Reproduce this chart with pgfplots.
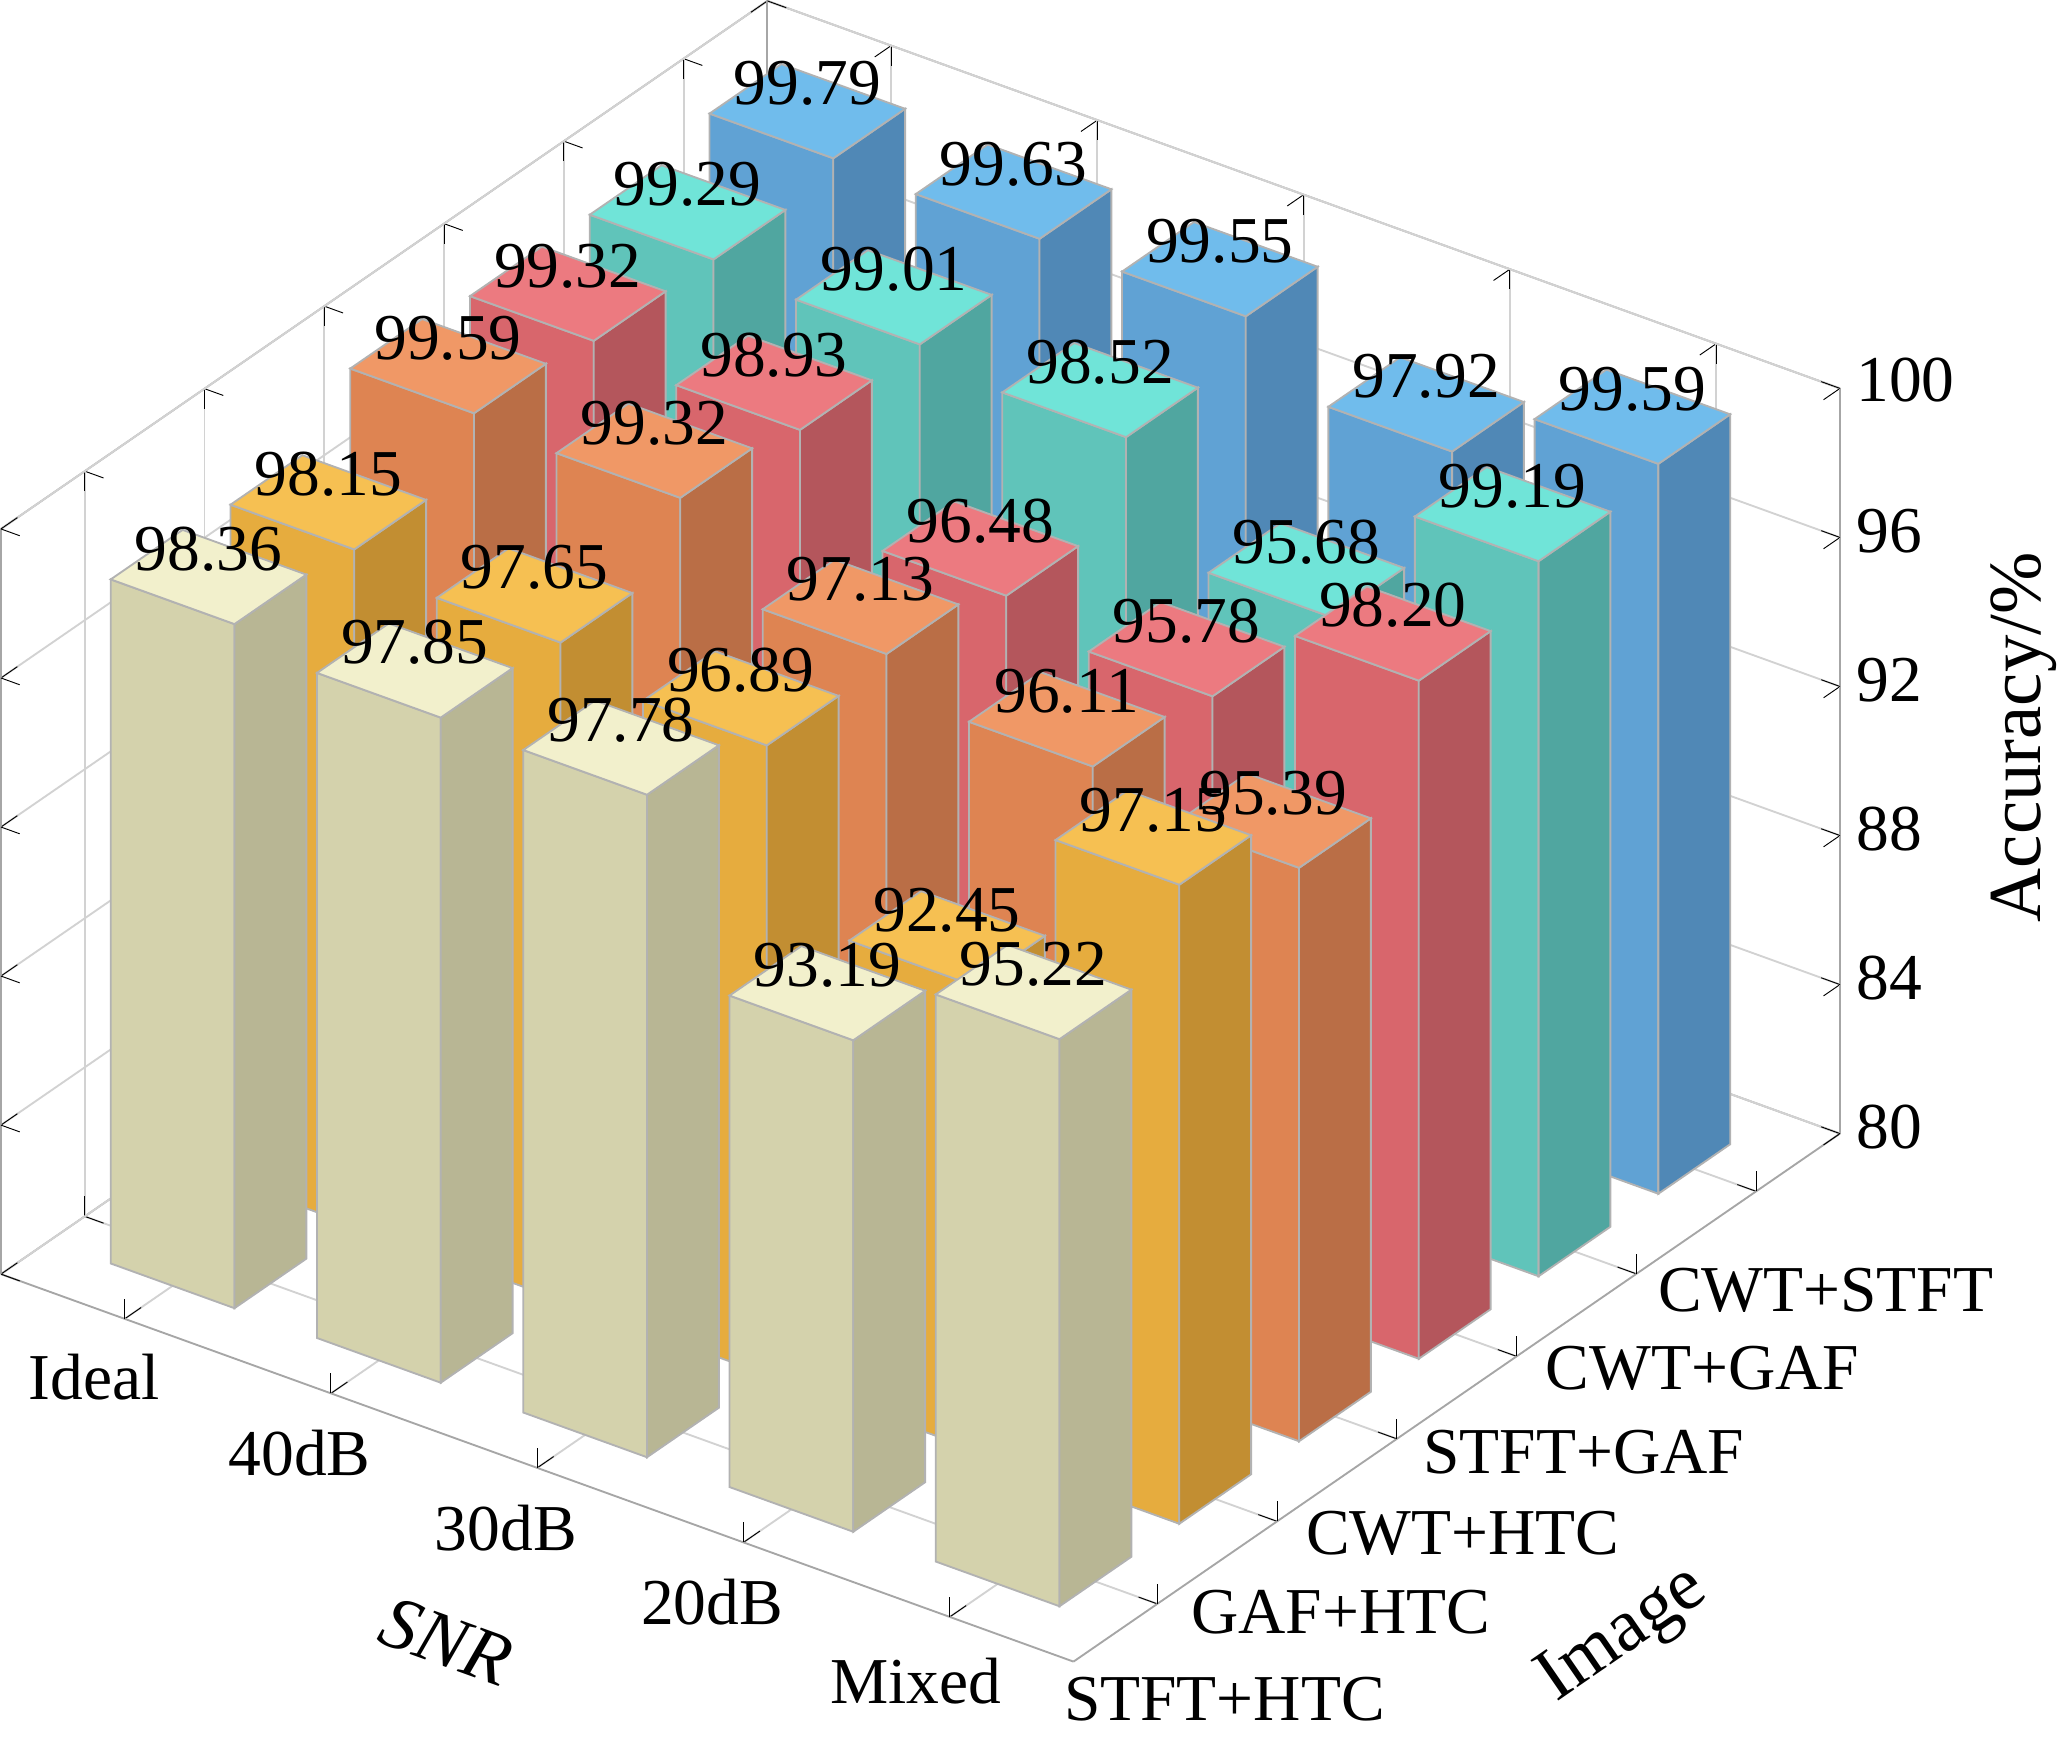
\documentclass[border=0pt]{standalone}
\usepackage{pgfplots}
\pgfplotsset{compat=1.18}
\usepackage{fontspec}
\setmainfont{Liberation Serif}
\definecolor{c0f}{RGB}{212,210,172}\definecolor{c0r}{RGB}{184,182,148}\definecolor{c0t}{RGB}{242,240,204}
\definecolor{c1f}{RGB}{230,172,62}\definecolor{c1r}{RGB}{194,142,50}\definecolor{c1t}{RGB}{246,192,82}
\definecolor{c2f}{RGB}{222,132,82}\definecolor{c2r}{RGB}{186,110,70}\definecolor{c2t}{RGB}{240,152,102}
\definecolor{c3f}{RGB}{216,102,108}\definecolor{c3r}{RGB}{180,86,92}\definecolor{c3t}{RGB}{236,122,128}
\definecolor{c4f}{RGB}{96,196,186}\definecolor{c4r}{RGB}{80,166,160}\definecolor{c4t}{RGB}{112,228,216}
\definecolor{c5f}{RGB}{96,162,212}\definecolor{c5r}{RGB}{80,136,182}\definecolor{c5t}{RGB}{112,188,236}
\newcommand{\bbar}[4]{%
\pgfmathsetmacro\xa{#1-0.3}\pgfmathsetmacro\xb{#1+0.3}%
\pgfmathsetmacro\ya{#2-0.3}\pgfmathsetmacro\yb{#2+0.3}%
\addplot3[fill=c#4f, draw=gray!60, line width=0.4pt] coordinates {(\xa,\ya,80) (\xb,\ya,80) (\xb,\ya,#3) (\xa,\ya,#3)} -- cycle;
\addplot3[fill=c#4r, draw=gray!60, line width=0.4pt] coordinates {(\xb,\ya,80) (\xb,\yb,80) (\xb,\yb,#3) (\xb,\ya,#3)} -- cycle;
\addplot3[fill=c#4t, draw=gray!60, line width=0.4pt] coordinates {(\xa,\ya,#3) (\xb,\ya,#3) (\xb,\yb,#3) (\xa,\yb,#3)} -- cycle;
\addplot3[draw=none, mark=none, point meta=z, nodes near coords={\pgfmathprintnumber[fixed,precision=2,fixed zerofill]{\pgfplotspointmeta}}, nodes near coords style={anchor=south, font=\fontsize{14}{17}\selectfont, inner sep=1pt}] coordinates {(#1,#2,#3)};
}
\begin{document}
\begin{tikzpicture}
\begin{axis}[
  x={(1.55cm,-0.56cm)}, y={(0.9cm,0.62cm)}, z={(0cm,0.28cm)},
  xmin=-0.6, xmax=4.6, ymin=-0.7, ymax=5.7, zmin=80, zmax=100,
  clip=false,
  xtick={0,1,2,3,4}, xticklabels={Ideal,40dB,30dB,20dB,Mixed},
  ytick={0,1,2,3,4,5}, yticklabels={STFT+HTC,GAF+HTC,CWT+HTC,STFT+GAF,CWT+GAF,CWT+STFT},
  ztick={80,84,88,92,96,100},
  zticklabel pos=right,
  grid=major, grid style={gray!35},
  axis line style={gray!70},
  tick style={black},
  tick label style={font=\fontsize{14}{17}\selectfont},
  yticklabel style={inner sep=1pt},
  /pgf/number format/assume math mode=true,
  xlabel={\textit{SNR}}, ylabel={Image}, zlabel={Accuracy/\%},
  label style={font=\fontsize{16}{19}\selectfont},
  xlabel style={sloped like x axis},
  ylabel style={sloped like y axis},
]
\bbar{0}{5}{99.79}{5}\bbar{1}{5}{99.63}{5}\bbar{2}{5}{99.55}{5}\bbar{3}{5}{97.92}{5}\bbar{4}{5}{99.59}{5}
\bbar{0}{4}{99.29}{4}\bbar{1}{4}{99.01}{4}\bbar{2}{4}{98.52}{4}\bbar{3}{4}{95.68}{4}\bbar{4}{4}{99.19}{4}
\bbar{0}{3}{99.32}{3}\bbar{1}{3}{98.93}{3}\bbar{2}{3}{96.48}{3}\bbar{3}{3}{95.78}{3}\bbar{4}{3}{98.20}{3}
\bbar{0}{2}{99.59}{2}\bbar{1}{2}{99.32}{2}\bbar{2}{2}{97.13}{2}\bbar{3}{2}{96.11}{2}\bbar{4}{2}{95.39}{2}
\bbar{0}{1}{98.15}{1}\bbar{1}{1}{97.65}{1}\bbar{2}{1}{96.89}{1}\bbar{3}{1}{92.45}{1}\bbar{4}{1}{97.15}{1}
\bbar{0}{0}{98.36}{0}\bbar{1}{0}{97.85}{0}\bbar{2}{0}{97.78}{0}\bbar{3}{0}{93.19}{0}\bbar{4}{0}{95.22}{0}
\end{axis}
\end{tikzpicture}
\end{document}
